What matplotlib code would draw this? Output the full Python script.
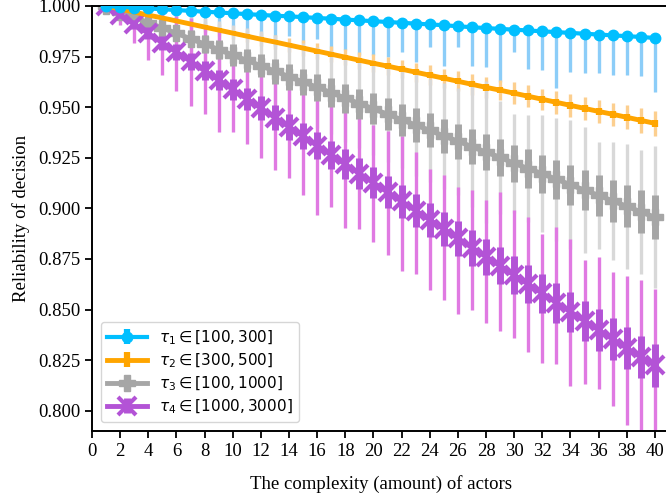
import matplotlib
matplotlib.use('Agg')
import matplotlib.pyplot as plt
import numpy as np

plt.rcParams['font.family'] = ['Liberation Serif', 'DejaVu Serif']
plt.rcParams['mathtext.fontset'] = 'dejavusans'

actors = list(range(1, 41))

# tau1 in [100, 300]
blue_mean = [1.0000, 0.9996, 0.9992, 0.9988, 0.9984, 0.9980, 0.9976, 0.9972, 0.9968, 0.9964,
             0.9960, 0.9956, 0.9952, 0.9949, 0.9945, 0.9941, 0.9937, 0.9933, 0.9929, 0.9925,
             0.9921, 0.9917, 0.9913, 0.9909, 0.9905, 0.9900, 0.9895, 0.9891, 0.9887, 0.9883,
             0.9879, 0.9875, 0.9871, 0.9867, 0.9863, 0.9859, 0.9855, 0.9851, 0.9847, 0.9842]
blue_low = [1.0000, 0.9990, 0.9980, 0.9962, 0.9950, 0.9930, 0.9920, 0.9900, 0.9880, 0.9898,
            0.9866, 0.9848, 0.9800, 0.9851, 0.9815, 0.9835, 0.9757, 0.9782, 0.9757, 0.9757,
            0.9746, 0.9774, 0.9724, 0.9799, 0.9703, 0.9799, 0.9706, 0.9700, 0.9625, 0.9774,
            0.9691, 0.9683, 0.9597, 0.9675, 0.9667, 0.9667, 0.9658, 0.9658, 0.9653, 0.9576]
blue_high = [1.0000, 1.0000, 1.0000, 0.9998, 0.9995, 0.9991, 0.9987, 0.9983, 0.9979, 0.9975,
             0.9971, 0.9967, 0.9963, 0.9960, 0.9956, 0.9952, 0.9948, 0.9944, 0.9940, 0.9936,
             0.9932, 0.9928, 0.9924, 0.9920, 0.9916, 0.9911, 0.9906, 0.9902, 0.9898, 0.9894,
             0.9890, 0.9886, 0.9882, 0.9878, 0.9874, 0.9870, 0.9866, 0.9862, 0.9858, 0.9853]
blue_box = [0.0000, 0.0002, 0.0003, 0.0004, 0.0004, 0.0005, 0.0005, 0.0006, 0.0006, 0.0006,
            0.0007, 0.0007, 0.0007, 0.0008, 0.0008, 0.0008, 0.0008, 0.0009, 0.0009, 0.0009,
            0.0009, 0.0010, 0.0010, 0.0010, 0.0010, 0.0010, 0.0011, 0.0011, 0.0011, 0.0011,
            0.0011, 0.0012, 0.0012, 0.0012, 0.0012, 0.0012, 0.0012, 0.0013, 0.0013, 0.0013]

# tau2 in [300, 500]
orange_mean = [1.0000, 0.9985, 0.9970, 0.9955, 0.9941, 0.9926, 0.9911, 0.9896, 0.9881, 0.9866,
               0.9851, 0.9836, 0.9822, 0.9807, 0.9792, 0.9777, 0.9762, 0.9747, 0.9732, 0.9717,
               0.9703, 0.9688, 0.9673, 0.9658, 0.9643, 0.9628, 0.9613, 0.9598, 0.9584, 0.9569,
               0.9554, 0.9539, 0.9524, 0.9509, 0.9494, 0.9479, 0.9465, 0.9450, 0.9435, 0.9420]
orange_err = [0.0005, 0.0010, 0.0013, 0.0016, 0.0019, 0.0021, 0.0024, 0.0026, 0.0028, 0.0030,
              0.0031, 0.0033, 0.0035, 0.0036, 0.0038, 0.0039, 0.0041, 0.0040, 0.0043, 0.0044,
              0.0045, 0.0046, 0.0047, 0.0049, 0.0048, 0.0050, 0.0051, 0.0052, 0.0050, 0.0054,
              0.0055, 0.0053, 0.0056, 0.0057, 0.0058, 0.0059, 0.0058, 0.0060, 0.0061, 0.0062]
orange_box = [0.0002, 0.0003, 0.0004, 0.0005, 0.0006, 0.0007, 0.0007, 0.0008, 0.0008, 0.0009,
              0.0009, 0.0010, 0.0010, 0.0011, 0.0011, 0.0012, 0.0012, 0.0012, 0.0013, 0.0013,
              0.0013, 0.0014, 0.0014, 0.0014, 0.0015, 0.0015, 0.0015, 0.0016, 0.0016, 0.0016,
              0.0016, 0.0017, 0.0017, 0.0017, 0.0017, 0.0018, 0.0018, 0.0018, 0.0018, 0.0019]

# tau3 in [100, 1000]
grey_mean = [1.0000, 0.9972, 0.9945, 0.9918, 0.9892, 0.9865, 0.9838, 0.9812, 0.9785, 0.9758,
             0.9731, 0.9705, 0.9678, 0.9651, 0.9625, 0.9598, 0.9572, 0.9545, 0.9518, 0.9492,
             0.9465, 0.9438, 0.9412, 0.9385, 0.9358, 0.9332, 0.9305, 0.9278, 0.9252, 0.9222,
             0.9197, 0.9171, 0.9144, 0.9117, 0.9090, 0.9064, 0.9037, 0.9010, 0.8983, 0.8956]
grey_err = [0.0010, 0.0040, 0.0060, 0.0075, 0.0090, 0.0105, 0.0115, 0.0130, 0.0140, 0.0150,
            0.0160, 0.0170, 0.0180, 0.0160, 0.0190, 0.0200, 0.0205, 0.0215, 0.0220, 0.0230,
            0.0235, 0.0240, 0.0250, 0.0255, 0.0260, 0.0265, 0.0300, 0.0350, 0.0280, 0.0245,
            0.0262, 0.0288, 0.0305, 0.0318, 0.0310, 0.0265, 0.0292, 0.0309, 0.0306, 0.0350]
grey_box = [0.0005, 0.0017, 0.0024, 0.0030, 0.0034, 0.0038, 0.0042, 0.0046, 0.0049, 0.0052,
            0.0055, 0.0058, 0.0061, 0.0064, 0.0066, 0.0068, 0.0070, 0.0072, 0.0074, 0.0076,
            0.0078, 0.0080, 0.0082, 0.0084, 0.0085, 0.0087, 0.0088, 0.0090, 0.0091, 0.0092,
            0.0094, 0.0095, 0.0097, 0.0098, 0.0100, 0.0101, 0.0103, 0.0104, 0.0106, 0.0108]

# tau4 in [1000, 3000]
purple_mean = [1.0000, 0.9955, 0.9910, 0.9865, 0.9818, 0.9772, 0.9727, 0.9680, 0.9634, 0.9588,
               0.9541, 0.9495, 0.9449, 0.9403, 0.9357, 0.9310, 0.9265, 0.9218, 0.9172, 0.9127,
               0.9080, 0.9035, 0.8989, 0.8943, 0.8898, 0.8852, 0.8806, 0.8761, 0.8716, 0.8670,
               0.8625, 0.8580, 0.8534, 0.8489, 0.8444, 0.8399, 0.8354, 0.8309, 0.8265, 0.8225]
purple_low = [0.9995, 0.9906, 0.9815, 0.9733, 0.9658, 0.9580, 0.9505, 0.9465, 0.9375, 0.9375,
              0.9317, 0.9250, 0.9188, 0.9150, 0.9064, 0.8965, 0.9006, 0.8904, 0.8900, 0.8833,
              0.8772, 0.8690, 0.8677, 0.8599, 0.8545, 0.8479, 0.8500, 0.8432, 0.8393, 0.8360,
              0.8289, 0.8236, 0.8230, 0.8124, 0.8132, 0.8110, 0.8023, 0.7929, 0.7850, 0.7800]
purple_high = [1.0000, 1.0000, 1.0000, 0.9980, 0.9970, 0.9950, 0.9940, 0.9890, 0.9880, 0.9800,
               0.9760, 0.9730, 0.9700, 0.9650, 0.9630, 0.9620, 0.9510, 0.9520, 0.9450, 0.9410,
               0.9380, 0.9360, 0.9280, 0.9196, 0.9163, 0.9105, 0.9089, 0.9040, 0.9080, 0.8990,
               0.8957, 0.8875, 0.8907, 0.8850, 0.8743, 0.8759, 0.8685, 0.8668, 0.8644, 0.8602]
purple_box = [0.0005, 0.0016, 0.0023, 0.0029, 0.0034, 0.0038, 0.0042, 0.0046, 0.0049, 0.0052,
              0.0055, 0.0058, 0.0061, 0.0064, 0.0066, 0.0068, 0.0070, 0.0073, 0.0075, 0.0077,
              0.0079, 0.0081, 0.0083, 0.0084, 0.0086, 0.0087, 0.0089, 0.0090, 0.0092, 0.0093,
              0.0095, 0.0096, 0.0098, 0.0099, 0.0100, 0.0102, 0.0103, 0.0104, 0.0105, 0.0106]

labels = [r'$\tau_1 \in [100, 300]$', r'$\tau_2 \in [300, 500]$',
          r'$\tau_3 \in [100, 1000]$', r'$\tau_4 \in [1000, 3000]$']

fig = plt.figure(figsize=(6.66, 4.97), dpi=100)
ax = fig.add_axes([92 / 666, 66 / 497, 577 / 666, 425 / 497])

x = np.array(actors)


def band(mean, low, high):
    mean = np.array(mean)
    return [mean - np.array(low), np.array(high) - mean]


def sym(mean, err):
    mean = np.array(mean)
    err = np.array(err)
    return mean - err, mean + err


# thin whiskers first, all series
ax.errorbar(x, blue_mean, yerr=band(blue_mean, blue_low, blue_high), fmt='none',
            ecolor='#8ccdf8', elinewidth=2.4, zorder=1)
lo, hi = sym(orange_mean, orange_err)
ax.errorbar(x, orange_mean, yerr=band(orange_mean, lo, hi), fmt='none',
            ecolor='#fccf8f', elinewidth=2.4, zorder=1)
lo, hi = sym(grey_mean, grey_err)
ax.errorbar(x, grey_mean, yerr=band(grey_mean, lo, hi), fmt='none',
            ecolor='#d8d8d8', elinewidth=2.4, zorder=1)
ax.errorbar(x, purple_mean, yerr=band(purple_mean, purple_low, purple_high), fmt='none',
            ecolor='#e07ae2', elinewidth=2.4, zorder=1.5)

# thick bars with lines and markers
ax.errorbar(x, blue_mean, yerr=blue_box, color='#00bfff', lw=3, marker='o', ms=7.5,
            elinewidth=4.5, label=labels[0], zorder=3)
ax.errorbar(x, orange_mean, yerr=orange_box, color='#ffa500', lw=3.5, marker='None',
            elinewidth=4.5, label=labels[1], zorder=2.5)
ax.errorbar(x, grey_mean, yerr=grey_box, color='#a6a6a6', lw=3.5, marker='P', ms=11,
            elinewidth=5, label=labels[2], zorder=2)
ax.errorbar(x, purple_mean, yerr=purple_box, color='#b353d6', lw=3.5, marker='x', ms=13,
            mew=3, elinewidth=5, label=labels[3], zorder=2.2)

ax.set_xlim(0, 41)
ax.set_ylim(0.79, 1.0)
ax.set_xticks(range(0, 41, 2))
ax.set_yticks([0.800, 0.825, 0.850, 0.875, 0.900, 0.925, 0.950, 0.975, 1.000])
ax.yaxis.set_major_formatter(matplotlib.ticker.FormatStrFormatter('%.3f'))
ax.tick_params(direction='out', length=5, width=1.3, labelsize=13.5)
for s in ax.spines.values():
    s.set_linewidth(1.4)

ax.set_xlabel('The complexity (amount) of actors', fontsize=13.5, labelpad=11)
ax.set_ylabel('Reliability of decision', fontsize=13.5, labelpad=6)

ax.legend(loc='lower left', prop={'family': 'DejaVu Sans', 'size': 11},
          handlelength=2.6, borderaxespad=0.6, labelspacing=0.3)

plt.savefig('out.png', dpi=100)
